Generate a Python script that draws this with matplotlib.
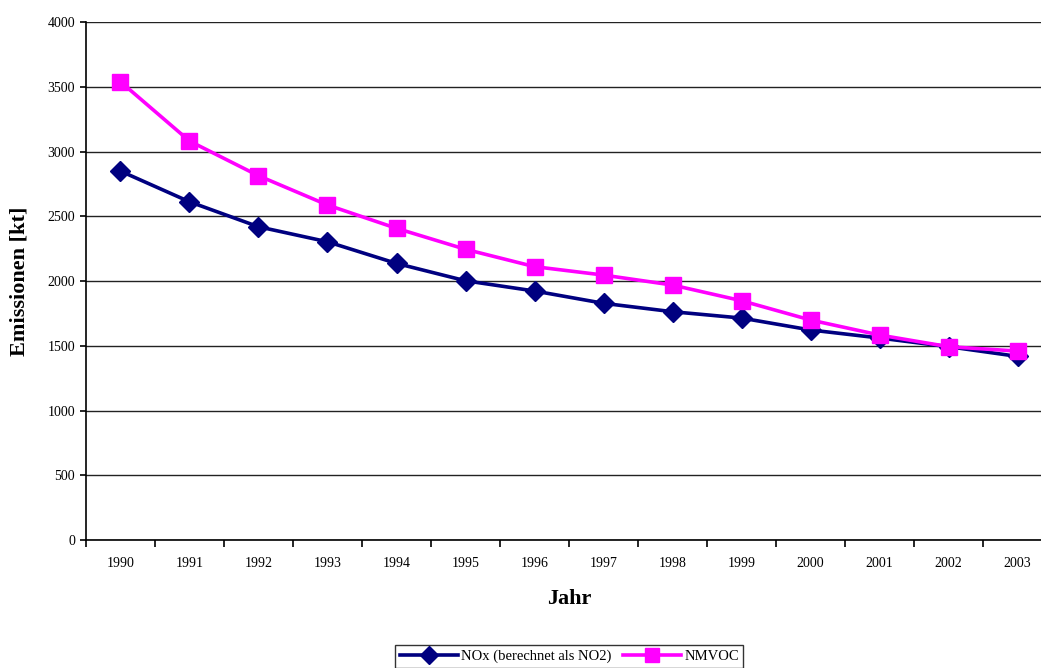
import numpy as np
import matplotlib.pyplot as plt

plt.rcParams['font.family'] = ['Liberation Serif', 'DejaVu Serif']

jahre = ['1990', '1991', '1992', '1993', '1994', '1995', '1996',
         '1997', '1998', '1999', '2000', '2001', '2002', '2003']
nox = [2849, 2612, 2419, 2303, 2136, 2002, 1923,
       1828, 1763, 1714, 1622, 1560, 1493, 1418]
nmvoc = [3539, 3081, 2813, 2587, 2407, 2245, 2111,
         2046, 1969, 1848, 1699, 1583, 1493, 1459]

fig = plt.figure(figsize=(10.41, 6.68), dpi=100)
ax = fig.add_axes([0.0826, 0.1916, 0.928, 0.7754])

x = np.arange(len(jahre))

# gridlines
ax.set_ylim(0, 4000)
ax.set_yticks(np.arange(0, 4001, 500))
ax.yaxis.grid(True, color='#222222', linewidth=1.0)
ax.set_axisbelow(True)

ax.plot(x, nox, color='#000080', linewidth=2.6, marker='D', markersize=10.5,
        label='NOx (berechnet als NO2)')
ax.plot(x, nmvoc, color='#FF00FF', linewidth=2.6, marker='s', markersize=12,
        label='NMVOC')

ax.set_xlim(-0.5, len(jahre) - 0.5)
ax.set_xticks(np.arange(-0.5, len(jahre), 1.0))
ax.set_xticklabels([])
ax.set_xticks(x, minor=True)
ax.set_xticklabels(jahre, minor=True)
ax.tick_params(axis='x', which='major', direction='out', length=5, width=1.2)
ax.tick_params(axis='x', which='minor', length=0, pad=12, labelsize=10)
ax.tick_params(axis='y', direction='out', length=4, width=1.2, labelsize=10, pad=4)

for s in ['top', 'right']:
    ax.spines[s].set_visible(False)
ax.spines['left'].set_linewidth(1.2)
ax.spines['bottom'].set_linewidth(1.2)

ax.set_xlabel('Jahr', fontsize=16, fontweight='bold', labelpad=14)
ax.set_ylabel('Emissionen [kt]', fontsize=16, fontweight='bold', labelpad=13)

leg = fig.legend(loc='upper center', bbox_to_anchor=(0.547, 0.034), ncol=2,
                 fontsize=10.5, frameon=True, fancybox=False, edgecolor='black',
                 handlelength=4, columnspacing=0.8, handletextpad=0.2,
                 borderpad=0.3, borderaxespad=0, markerscale=0.85)
leg.get_frame().set_linewidth(1.0)

fig.savefig('out.png', dpi=100)
